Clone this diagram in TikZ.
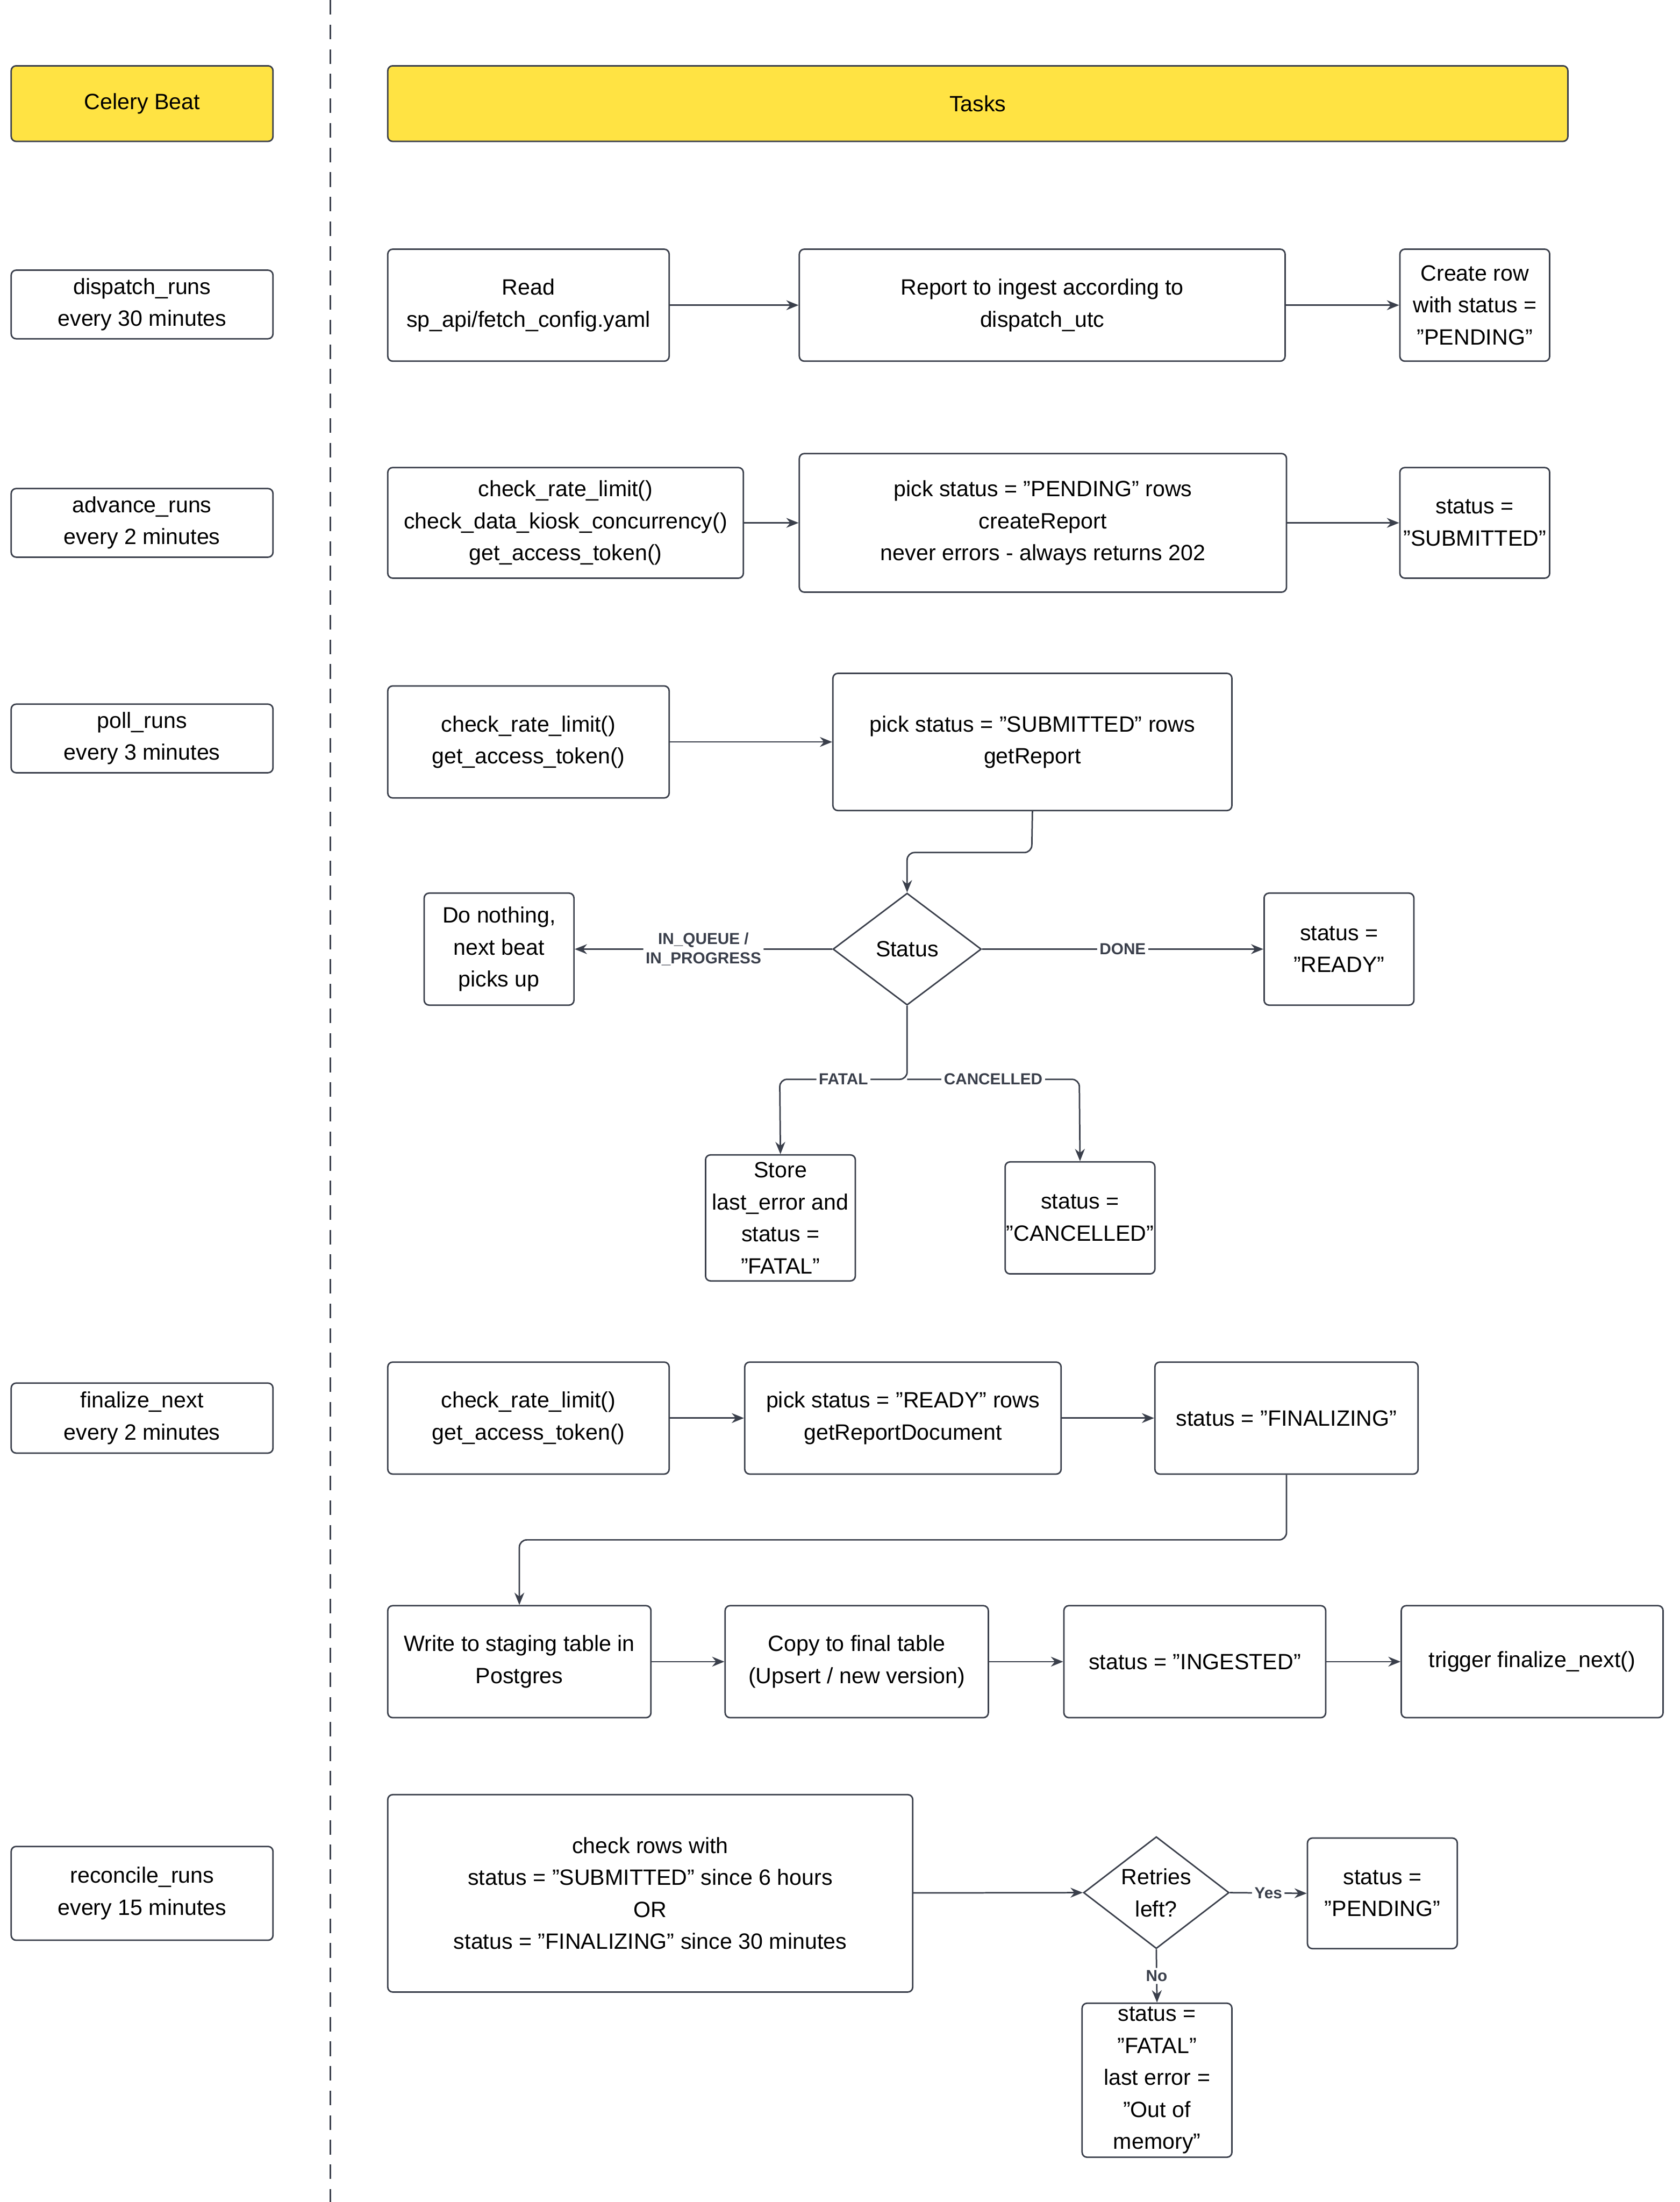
\documentclass[tikz,border=0pt]{standalone}
\usepackage{fontspec}
\setmainfont{Liberation Sans}
\usetikzlibrary{shapes.geometric,arrows.meta}
\definecolor{ln}{HTML}{3A3F4B}
\definecolor{yel}{HTML}{FFE343}
\begin{document}
\begin{tikzpicture}[x=0.02cm,y=-0.02cm,
  every node/.style={font=\fontsize{9}{13}\selectfont, text=black, align=center, inner sep=0pt},
  arr/.style={draw=ln, line width=0.6pt, -{Stealth[length=5pt,width=4pt]}, rounded corners=3pt},
  lab/.style={font=\fontsize{6.5}{8}\selectfont\bfseries, fill=white, inner sep=1pt, text=ln}]
\useasboundingbox (0,0) rectangle (1200,1573);
\newcommand{\bx}[6][white]{\node[draw=ln, line width=0.6pt, rounded corners=2pt, fill=#1, minimum width=(#4-#2)*0.02cm, minimum height=(#5-#3)*0.02cm] (#6) at ({(#2+#4)/2},{(#3+#5)/2})}
\draw[ln, dashed, line width=0.8pt, dash pattern=on 6pt off 4pt] (236,0) -- (236,1573);
\bx[yel]{8}{47}{195}{101}{cb} {Celery Beat};
\bx[yel]{277}{47}{1120}{101}{tk} {Tasks};
\bx{8}{193}{195}{242}{d} {dispatch\_runs\\every 30 minutes};
\bx{277}{178}{478}{258}{rd} {Read\\sp\_api/fetch\_config.yaml};
\bx{571}{178}{918}{258}{rp} {Report to ingest according to\\dispatch\_utc};
\bx{1000}{178}{1107}{258}{cr} {Create row\\with status =\\"PENDING"};
\bx{8}{349}{195}{398}{a} {advance\_runs\\every 2 minutes};
\bx{277}{334}{531}{413}{c3} {check\_rate\_limit()\\check\_data\_kiosk\_concurrency()\\get\_access\_token()};
\bx{571}{324}{919}{423}{pp} {pick status = "PENDING" rows\\createReport\\never errors - always returns 202};
\bx{1000}{334}{1107}{413}{sb} {status =\\"SUBMITTED"};
\bx{8}{503}{195}{552}{p} {poll\_runs\\every 3 minutes};
\bx{277}{490}{478}{570}{c2} {check\_rate\_limit()\\get\_access\_token()};
\bx{595}{481}{880}{579}{ps} {pick status = "SUBMITTED" rows\\getReport};
\node[draw=ln, line width=0.6pt, diamond, aspect=1.3, minimum width=106*0.02cm, minimum height=80*0.02cm] (st) at (648,678) {Status};
\bx{303}{638}{410}{718}{dn} {Do nothing,\\next beat\\picks up};
\bx{903}{638}{1010}{718}{rdy} {status =\\"READY"};
\bx{504}{825}{611}{915}{sto} {Store\\last\_error and\\status =\\"FATAL"};
\bx{718}{830}{825}{910}{can} {status =\\"CANCELLED"};
\bx{8}{988}{195}{1038}{f} {finalize\_next\\every 2 minutes};
\bx{277}{973}{478}{1053}{c2b} {check\_rate\_limit()\\get\_access\_token()};
\bx{532}{973}{758}{1053}{pr} {pick status = "READY" rows\\getReportDocument};
\bx{825}{973}{1013}{1053}{fz} {status = "FINALIZING"};
\bx{277}{1147}{465}{1227}{wr} {Write to staging table in\\Postgres};
\bx{518}{1147}{706}{1227}{cp} {Copy to final table\\(Upsert / new version)};
\bx{760}{1147}{947}{1227}{ig} {status = "INGESTED"};
\bx{1001}{1147}{1188}{1227}{tr} {trigger finalize\_next()};
\bx{8}{1319}{195}{1386}{r} {reconcile\_runs\\every 15 minutes};
\bx{277}{1282}{652}{1423}{ck} {check rows with\\status = "SUBMITTED" since 6 hours\\OR\\status = "FINALIZING" since 30 minutes};
\node[draw=ln, line width=0.6pt, diamond, aspect=1.3, minimum width=104*0.02cm, minimum height=80*0.02cm] (rt) at (826,1352) {Retries\\left?};
\bx{934}{1313}{1041}{1392}{pn} {status =\\"PENDING"};
\bx{773}{1431}{880}{1541}{ft} {status =\\"FATAL"\\last error =\\"Out of\\memory"};
\draw[arr] (rd) -- (rp);
\draw[arr] (rp) -- (cr);
\draw[arr] (c3) -- (pp);
\draw[arr] (pp) -- (sb);
\draw[arr] (c2) -- (c2-|ps.west);
\draw[arr] (ps.south) -- (737,609) -- (648,609) -- (st.north);
\draw[arr] (st.west) -- node[lab, pos=0.5]{IN\_QUEUE /\\IN\_PROGRESS} (dn.east);
\draw[arr] (st.east) -- node[lab, pos=0.5]{DONE} (rdy.west);
\draw[arr] (st.south) -- (648,771) -- node[lab, pos=0.5]{FATAL} (557,771) -- (sto.north);
\draw[arr] (648,771) -- node[lab, pos=0.5]{CANCELLED} (771,771) -- (can.north);
\draw[arr] (c2b) -- (pr);
\draw[arr] (pr) -- (fz);
\draw[arr] (fz.south) -- (919,1100) -- (371,1100) -- (wr.north);
\draw[arr] (wr) -- (cp);
\draw[arr] (cp) -- (ig);
\draw[arr] (ig) -- (tr);
\draw[arr] (ck) -- (rt.west);
\draw[arr] (rt.east) -- node[lab, pos=0.5]{Yes} (pn.west);
\draw[arr] (rt.south) -- node[lab, pos=0.5]{No} (ft.north);
\end{tikzpicture}
\end{document}
